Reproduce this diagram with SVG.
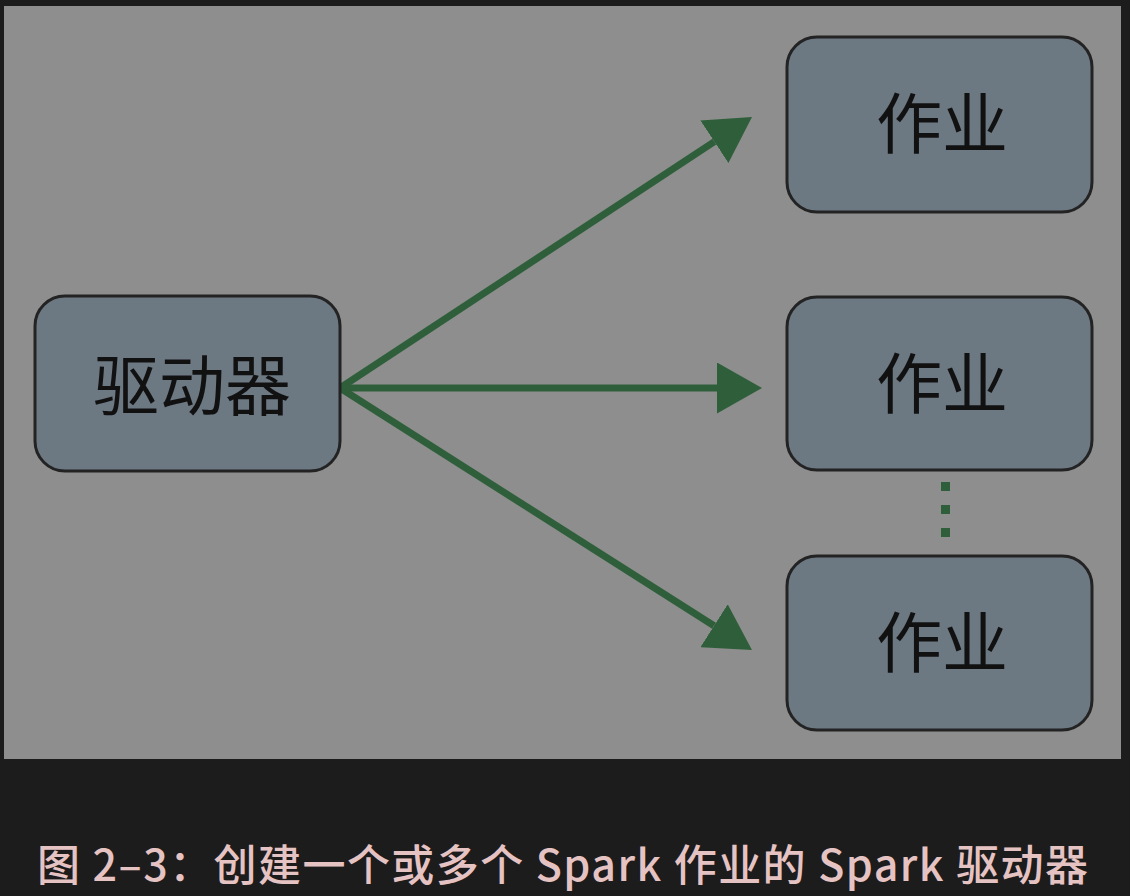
<svg xmlns="http://www.w3.org/2000/svg" width="1130" height="896" viewBox="0 0 1130 896">
<defs>
<style>
.node rect{fill:#6c7882;stroke:#232323;stroke-width:3}
.node text{font-family:"Noto Sans CJK SC","Noto Sans",sans-serif;font-size:66px;fill:#111;text-anchor:middle}
.conn line{stroke:#2f5f3a;stroke-width:7;fill:none}
.caption{font-family:"Noto Sans CJK SC","Noto Sans",sans-serif;font-size:43px;font-weight:500;fill:#e6c3c3}
</style>
<marker id="ah" markerUnits="userSpaceOnUse" viewBox="0 0 45 51" markerWidth="45" markerHeight="51" refX="0" refY="25.5" orient="auto">
<path d="M0,0 L45,25.5 L0,51 Z" fill="#2f5f3a"/>
</marker>
</defs>
<rect x="0" y="0" width="1130" height="896" fill="#1c1c1c"/>
<rect x="4" y="6" width="1117" height="753" fill="#8e8e8e"/>
<g id="connectors" class="conn">
<line x1="340" y1="388" x2="714.4" y2="141.7" marker-end="url(#ah)"/>
<line x1="340" y1="388" x2="717" y2="388" marker-end="url(#ah)"/>
<line x1="340" y1="388" x2="714" y2="625.8" marker-end="url(#ah)"/>
<line x1="945.5" y1="482" x2="945.5" y2="540" stroke-dasharray="9 14" style="stroke-width:9"/>
</g>
<g id="driver" class="node">
<rect x="35" y="296" width="305" height="175" rx="30"/>
<text x="192" y="410">驱动器</text>
</g>
<g id="job1" class="node">
<rect x="787" y="37" width="305" height="175" rx="30"/>
<text x="942" y="148">作业</text>
</g>
<g id="job2" class="node">
<rect x="787" y="297" width="305" height="173" rx="30"/>
<text x="942" y="408">作业</text>
</g>
<g id="job3" class="node">
<rect x="787" y="556" width="305" height="174" rx="30"/>
<text x="942" y="667">作业</text>
</g>
<text class="caption" x="37" y="881" textLength="1051" lengthAdjust="spacing">图 2–3：创建一个或多个 Spark 作业的 Spark 驱动器</text>
</svg>
